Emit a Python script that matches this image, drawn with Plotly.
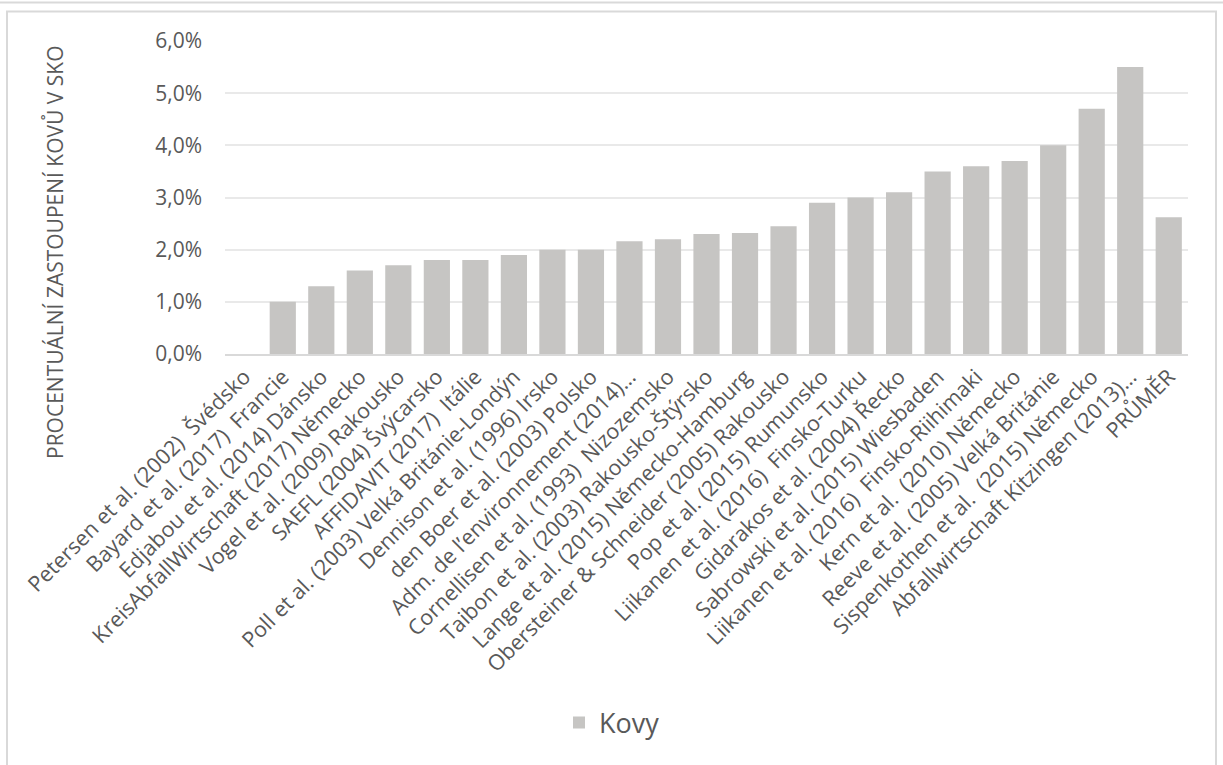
import plotly.graph_objects as go

categories = [
    "Petersen et al. (2002)  Švédsko",
    "Bayard et al. (2017)  Francie",
    "Edjabou et al. (2014) Dánsko",
    "KreisAbfallWirtschaft (2017) Německo",
    "Vogel et al. (2009) Rakousko",
    "SAEFL (2004) Švýcarsko",
    "AFFIDAVIT (2017)  Itálie",
    "Poll et al. (2003) Velká Británie-Londýn",
    "Dennison et al. (1996) Irsko",
    "den Boer et al. (2003) Polsko",
    "Adm. de l’environnement (2014)…",
    "Cornellisen et al. (1993)  Nizozemsko",
    "Taibon et al. (2003) Rakousko-Štýrsko",
    "Lange et al. (2015) Německo-Hamburg",
    "Obersteiner & Schneider (2005) Rakousko",
    "Pop et al. (2015) Rumunsko",
    "Liikanen et al. (2016)  Finsko-Turku",
    "Gidarakos et al. (2004) Řecko",
    "Sabrowski et al. (2015) Wiesbaden",
    "Liikanen et al. (2016)  Finsko-Riihimaki",
    "Kern et al.  (2010) Německo",
    "Reeve et al. (2005) Velká Británie",
    "Sispenkothen et al.  (2015) Německo",
    "Abfallwirtschaft Kitzingen (2013)…",
    "PRŮMĚR",
]
values = [None, 1.0, 1.3, 1.6, 1.7, 1.8, 1.8, 1.9, 2.0, 2.0, 2.16, 2.2, 2.3, 2.32,
          2.45, 2.9, 3.0, 3.1, 3.5, 3.6, 3.7, 4.0, 4.7, 5.5, 2.62]
y_ticks = [0, 1, 2, 3, 4, 5, 6]
y_tick_labels = ["0,0%", "1,0%", "2,0%", "3,0%", "4,0%", "5,0%", "6,0%"]
series_name = "Kovy"
y_title = "PROCENTUÁLNÍ ZASTOUPENÍ KOVŮ V SKO"

W, H = 1223, 765
L, R, T, B = 225, 1188, 41, 354
pw, ph = R - L, B - T

def px(x):
    return (x - L) / pw

def py(y):
    return (B - y) / ph

text_col = "#595959"
font = "Open Sans"

fig = go.Figure()
fig.add_trace(go.Bar(
    x=categories, y=values, name=series_name,
    marker=dict(color="#c6c5c3", line=dict(width=0)),
))

fig.update_layout(
    width=W, height=H,
    margin=dict(l=L, r=W - R, t=T, b=H - B, autoexpand=False),
    paper_bgcolor="white", plot_bgcolor="white",
    bargap=0.32,
    font=dict(family=font, color=text_col, size=20),
    showlegend=True,
    legend=dict(orientation="h", x=px(612), y=py(723), xanchor="center", yanchor="middle",
                font=dict(size=27, color=text_col, family=font)),
    xaxis=dict(tickangle=-45, showgrid=False, showline=True, linecolor="#d9d9d9", linewidth=1.5,
               ticks="", tickfont=dict(size=21.5, color=text_col, family=font), automargin=False),
    yaxis=dict(range=[0, 6], tickvals=y_ticks, ticktext=y_tick_labels,
               showgrid=True, gridcolor="#e9e9e9", gridwidth=1.5, zeroline=False,
               showline=False, ticks="", ticklabelstandoff=22,
               tickfont=dict(size=21, color=text_col, family=font), automargin=False),
    annotations=[dict(text=y_title, xref="paper", yref="paper", x=px(55), y=py(252),
                      textangle=-90, showarrow=False, xanchor="center", yanchor="middle",
                      font=dict(size=21, color=text_col, family=font))],
    shapes=[
        dict(type="rect", xref="paper", yref="paper", x0=px(7), x1=px(1216), y0=py(780), y1=py(11.5),
             line=dict(color="#d9d9d9", width=2), layer="below"),
        dict(type="line", xref="paper", yref="paper", x0=px(0), x1=px(1230), y0=py(2.5), y1=py(2.5),
             line=dict(color="#d9d9d9", width=2)),
    ],
)

fig.write_html("out.html", config={"displayModeBar": False},
               post_script="document.body.style.margin='0';document.body.style.overflow='hidden';")
